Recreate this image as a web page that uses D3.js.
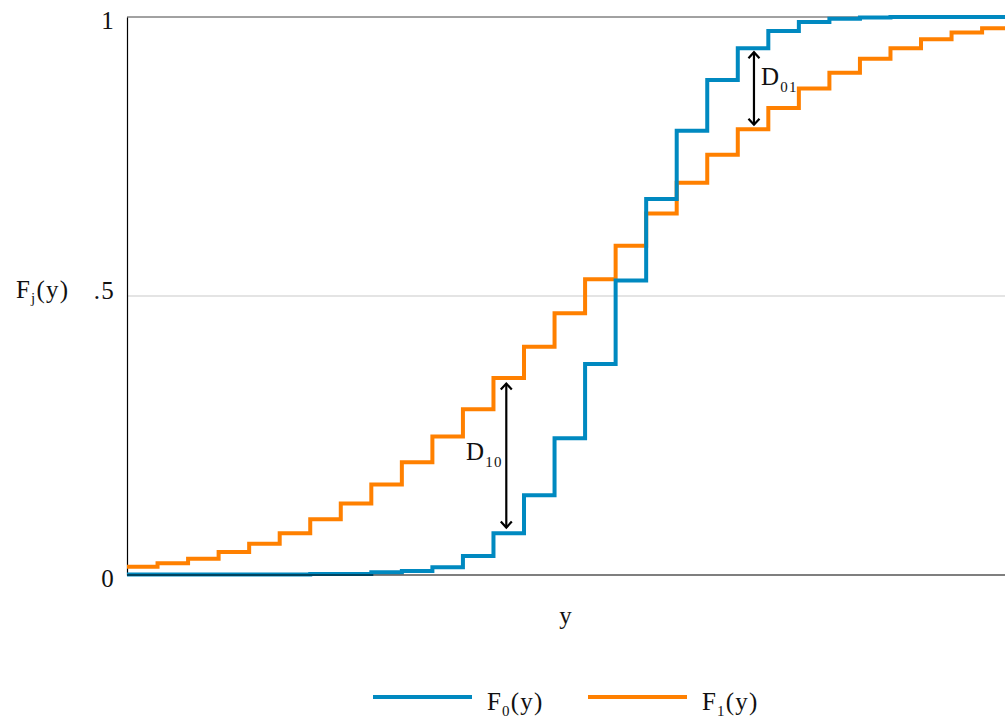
<!DOCTYPE html>
<html>
<head>
<meta charset="utf-8">
<script src="https://cdn.jsdelivr.net/npm/d3@7"></script>
</head>
<body style="margin:0">
<div id="chart"></div>
<script>
// step positions (k = 0..28), value of each CDF after the step
const steps = d3.range(0, 29)
const f0 = [0.001, 0.001, 0.001, 0.001, 0.001, 0.001, 0.002, 0.002, 0.005, 0.007,
            0.014, 0.034, 0.075, 0.143, 0.245, 0.378, 0.528, 0.674, 0.796, 0.887,
            0.944, 0.975, 0.991, 0.997, 0.999, 1.0, 1.0, 1.0, 1.0]
const f1 = [0.015, 0.021, 0.029, 0.041, 0.056, 0.075, 0.100, 0.128, 0.162, 0.202,
            0.248, 0.297, 0.353, 0.409, 0.469, 0.530, 0.590, 0.648, 0.703, 0.753,
            0.799, 0.837, 0.872, 0.900, 0.925, 0.944, 0.960, 0.972, 0.980]
const xEnd = 28.75
const yTicks = [0, 0.5, 1]
const yTickLabels = ["0", ".5", "1"]
const legendLabels = ["0", "1"]
// D arrows
const d10 = {x: 12.42, y1: 0.343, y2: 0.085, label: "10"}
const d01 = {x: 20.53, y1: 0.937, y2: 0.807, label: "01"}

const width = 1005, height = 723
const margin = {top: 17, right: 0, bottom: 148, left: 127}
const blue = "#0089c0", orange = "#ff8000"
const fs = 25
const font = "Liberation Serif"

const svg = d3.select("#chart").append("svg").attr("width", width).attr("height", height)
  .attr("font-family", font)

const x = d3.scaleLinear().domain([0, xEnd]).range([margin.left, width - margin.right])
const y = d3.scaleLinear().domain([0, 1]).range([height - margin.bottom, margin.top])

// gridline at .5
svg.append("line")
  .attr("x1", x(0)).attr("x2", x(xEnd))
  .attr("y1", y(0.5)).attr("y2", y(0.5))
  .attr("stroke", "#e4e4e4").attr("stroke-width", 2)

// top frame
svg.append("line").attr("x1", x(0)).attr("x2", x(xEnd)).attr("y1", y(1)).attr("y2", y(1))
  .attr("stroke", "#444").attr("stroke-width", 1)

const yAxis = g => g
  .attr("transform", `translate(${margin.left},0)`)
  .call(d3.axisLeft(y).tickValues(yTicks).tickSize(0).tickPadding(12)
    .tickFormat((d, i) => yTickLabels[i]))
  .attr("font-family", font)
  .call(g => g.select(".domain").attr("stroke", "#000").attr("stroke-width", 1.2))
  .call(g => g.selectAll("text")
    .attr("font-size", fs)
    .attr("fill", "#111")
    .attr("dy", d => d === 0.5 ? 2 : 11.5))

svg.append("g").call(yAxis)

const line = d3.line()
  .curve(d3.curveStepAfter)
  .x(d => x(d.x))
  .y(d => y(d.v))

const toPts = vals => steps.map((k, i) => ({x: k, v: vals[i]})).concat([{x: xEnd, v: vals[vals.length - 1]}])

svg.append("path").datum(toPts(f1))
  .attr("d", line).attr("fill", "none").attr("stroke", orange).attr("stroke-width", 4)
svg.append("path").datum(toPts(f0))
  .attr("d", line).attr("fill", "none").attr("stroke", blue).attr("stroke-width", 4)

// bottom axis line
svg.append("line").attr("x1", x(0)).attr("x2", x(xEnd)).attr("y1", y(0)).attr("y2", y(0))
  .attr("stroke", "#000").attr("stroke-width", 1.2)

// arrow markers
const defs = svg.append("defs")
defs.append("marker")
  .attr("id", "chev").attr("viewBox", "-8 -8 16 16")
  .attr("markerWidth", 16).attr("markerHeight", 16)
  .attr("markerUnits", "userSpaceOnUse")
  .attr("orient", "auto-start-reverse").attr("refX", 0).attr("refY", 0)
  .append("path").attr("d", "M-6,-5.5 L0,0 L-6,5.5")
  .attr("fill", "none").attr("stroke", "#000").attr("stroke-width", 2.2)

svg.selectAll(".darrow").data([d10, d01]).join("line")
  .attr("class", "darrow")
  .attr("x1", d => x(d.x)).attr("x2", d => x(d.x))
  .attr("y1", d => y(d.y1)).attr("y2", d => y(d.y2))
  .attr("stroke", "#000").attr("stroke-width", 2.2)
  .attr("marker-start", "url(#chev)").attr("marker-end", "url(#chev)")

const sub = (t, main, s, rest, dy) => {
  t.append("tspan").text(main)
  t.append("tspan").attr("font-size", "0.6em").attr("dy", dy).text(s)
  if (rest) t.append("tspan").attr("dy", -dy).text(rest)
}

// D10 label, left of arrow
svg.append("text")
  .attr("x", 466).attr("y", 460)
  .call(t => sub(t, "D", d10.label, null, 7))
// D01 label, right of arrow
svg.append("text")
  .attr("x", x(d01.x) + 7).attr("y", 85)
  .call(t => sub(t, "D", d01.label, null, 7))

// axis titles
svg.append("text")
  .attr("x", 16).attr("y", 298)
  .call(t => sub(t, "F", "j", "(y)", 5))
svg.append("text")
  .attr("x", (x(0) + x(xEnd)) / 2).attr("y", 624)
  .attr("text-anchor", "middle").text("y")

// legend
const legend = svg.append("g")
const items = [{c: blue, x0: 373, tx: 487}, {c: orange, x0: 588, tx: 702}]
items.forEach((it, i) => {
  legend.append("line")
    .attr("x1", it.x0).attr("x2", it.x0 + 99).attr("y1", 697).attr("y2", 697)
    .attr("stroke", it.c).attr("stroke-width", 4)
  legend.append("text")
    .attr("x", it.tx).attr("y", 710)
    .call(t => sub(t, "F", legendLabels[i], "(y)", 6))
})

// shared text styling
svg.selectAll("text:not(.tick text)")
  .attr("font-size", fs).attr("fill", "#111")
svg.selectAll("text")
  .attr("font-family", font)
  .attr("letter-spacing", 1.2)
</script>
</body>
</html>
